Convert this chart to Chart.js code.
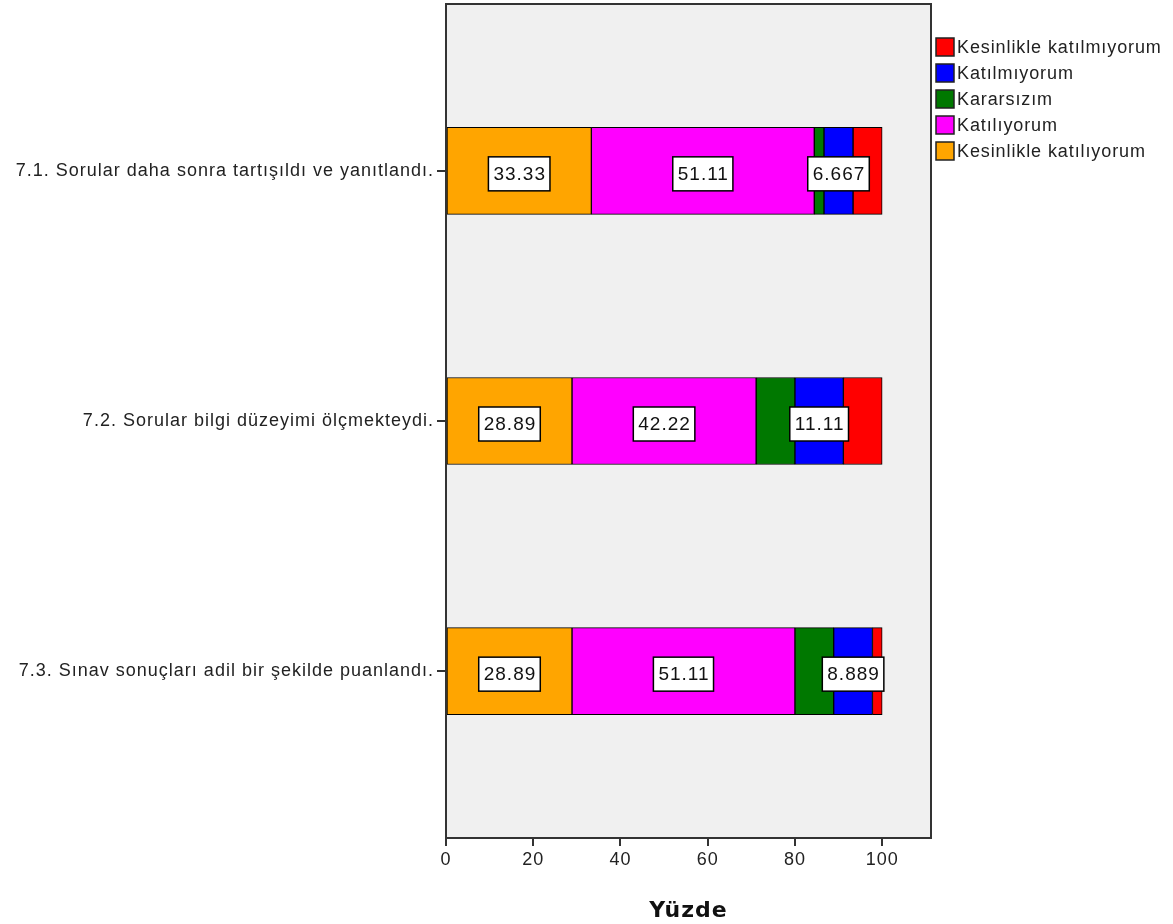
<!DOCTYPE html>
<html>
<head>
<meta charset="utf-8">
<script src="https://cdn.jsdelivr.net/npm/chart.js@4.4.0/dist/chart.umd.min.js"></script>
<style>
  html, body { margin: 0; padding: 0; background: #fff; }
  #wrap { width: 1173px; height: 924px; }
</style>
</head>
<body>
<div id="wrap"><canvas id="chart"></canvas></div>
<script>
// sorular (y ekseni)
const sorular = [
  "7.1. Sorular daha sonra tartışıldı ve yanıtlandı.",
  "7.2. Sorular bilgi düzeyimi ölçmekteydi.",
  "7.3. Sınav sonuçları adil bir şekilde puanlandı."
];

// yüzdeler, soldan sağa
const kesinlikleKatiliyorum = [33.33, 28.89, 28.89];
const katiliyorum = [51.11, 42.22, 51.11];
const kararsizim = [2.222, 8.889, 8.889];
const katilmiyorum = [6.667, 11.11, 8.889];
const kesinlikleKatilmiyorum = [6.667, 8.889, 2.222];

const xTicks = [0, 20, 40, 60, 80, 100];

const fontName = "'Liberation Sans', Arial, sans-serif";

function seri(label, values, color, showLabel){
  return {
    label: label,
    data: values.map((v, i) => ({x: v, y: i})),
    backgroundColor: color,
    borderColor: '#000',
    borderWidth: 1,
    borderSkipped: false,
    barThickness: 87,
    showLabel: showLabel
  };
}

const datasets = [
  seri('Kesinlikle katılıyorum', kesinlikleKatiliyorum, '#ffa500', true),
  seri('Katılıyorum', katiliyorum, '#ff00ff', true),
  seri('Kararsızım', kararsizim, '#007800', false),
  seri('Katılmıyorum', katilmiyorum, '#0000ff', true),
  seri('Kesinlikle katılmıyorum', kesinlikleKatilmiyorum, '#ff0000', false)
];

// arka plan, çerçeve, etiketler ve lejant
const spssPlugin = {
  id: 'spss',
  beforeDraw(chart){
    chart.ctx.letterSpacing = '1px';
  },
  beforeDatasetsDraw(chart){
    const {ctx, chartArea: a} = chart;
    ctx.save();
    ctx.fillStyle = '#f0f0f0';
    ctx.fillRect(a.left, a.top, a.right - a.left, a.bottom - a.top);
    ctx.restore();
  },
  afterDatasetsDraw(chart){
    const {ctx, chartArea: a} = chart;
    ctx.save();
    ctx.strokeStyle = '#333';
    ctx.lineWidth = 2;
    ctx.strokeRect(a.left, a.top, a.right - a.left, a.bottom - a.top);

    // değer etiketleri
    ctx.letterSpacing = '1px';
    ctx.font = '19px ' + fontName;
    ctx.textAlign = 'center';
    ctx.textBaseline = 'middle';
    chart.data.datasets.forEach((ds, di) => {
      if(!ds.showLabel) return;
      chart.getDatasetMeta(di).data.forEach((bar, i) => {
        const cx = (bar.x + bar.base) / 2;
        const cy = bar.y + 3;
        const txt = String(ds.data[i].x);
        const w = ctx.measureText(txt).width + 9;
        const h = 34;
        ctx.fillStyle = '#fff';
        ctx.fillRect(cx - w / 2, cy - h / 2, w, h);
        ctx.strokeStyle = '#000';
        ctx.lineWidth = 1.5;
        ctx.strokeRect(cx - w / 2, cy - h / 2, w, h);
        ctx.fillStyle = '#111';
        ctx.fillText(txt, cx + 0.5, cy + 1);
      });
    });

    // lejant (ters sıra)
    ctx.letterSpacing = '0.9px';
    ctx.font = '18px ' + fontName;
    ctx.textAlign = 'left';
    const items = chart.data.datasets.slice().reverse();
    items.forEach((ds, k) => {
      const y = 47 + k * 26;
      ctx.fillStyle = ds.backgroundColor;
      ctx.fillRect(936, y - 9, 18, 18);
      ctx.strokeStyle = '#222';
      ctx.lineWidth = 1.5;
      ctx.strokeRect(936, y - 9, 18, 18);
      ctx.fillStyle = '#222';
      ctx.fillText(ds.label, 957, y + 1);
    });
    ctx.restore();
  }
};

const config = {
  type: 'bar',
  data: { datasets: datasets },
  options: {
    indexAxis: 'y',
    responsive: true,
    maintainAspectRatio: false,
    animation: false,
    layout: { padding: { top: 4, right: 242, left: 0, bottom: 0 } },
    plugins: {
      legend: { display: false },
      tooltip: { enabled: false },
      title: { display: false }
    },
    scales: {
      x: {
        type: 'linear',
        stacked: true,
        min: 0,
        max: 111.2,
        afterBuildTicks: (scale) => { scale.ticks = xTicks.map(v => ({value: v})); },
        afterFit: (scale) => { scale.height = 86; },
        grid: { drawOnChartArea: false, drawTicks: true, tickLength: 8, color: '#333', lineWidth: 2 },
        border: { display: false },
        ticks: { color: '#222', font: { family: fontName, size: 18 }, padding: 3 },
        title: {
          display: true,
          text: 'Yüzde',
          color: '#111',
          font: { family: "'DejaVu Sans', sans-serif", size: 22, weight: 'bold' },
          padding: { top: 12, bottom: 0 }
        }
      },
      y: {
        type: 'linear',
        stacked: true,
        reverse: true,
        offset: false,
        min: -0.667,
        max: 2.667,
        afterBuildTicks: (scale) => { scale.ticks = sorular.map((s, i) => ({value: i})); },
        afterFit: (scale) => {
          scale.width = 446;
          scale.paddingTop = 0;
          scale.paddingBottom = 0;
        },
        grid: { offset: false, drawOnChartArea: false, drawTicks: true, tickLength: 9, color: '#333', lineWidth: 2 },
        border: { display: false },
        ticks: {
          color: '#222',
          font: { family: fontName, size: 18 },
          padding: 3,
          callback: (v) => sorular[v]
        }
      }
    }
  },
  plugins: [spssPlugin]
};

const myCanvas = document.getElementById('chart');
new Chart(myCanvas, config);
</script>
</body>
</html>
